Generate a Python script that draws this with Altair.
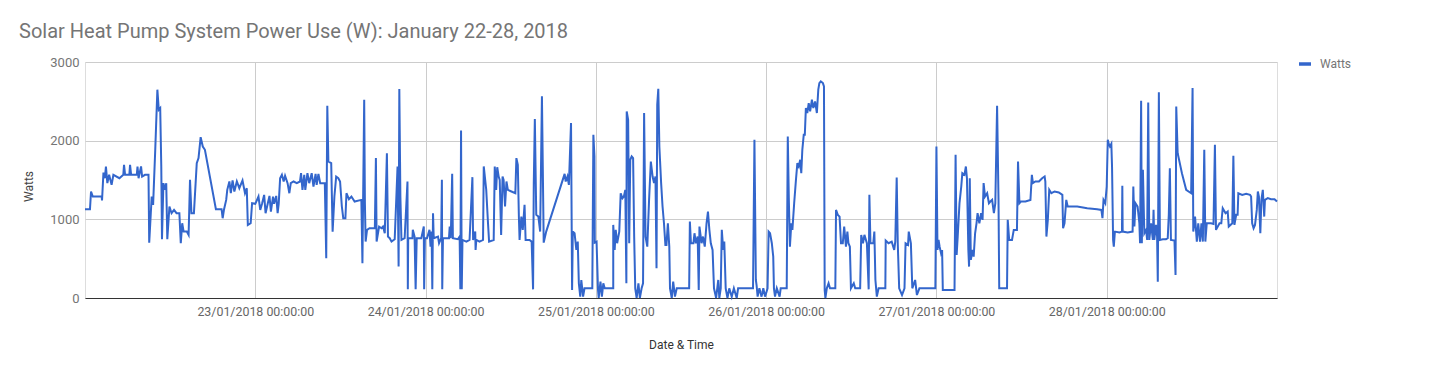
import altair as alt
import pandas as pd

TITLE = "Solar Heat Pump System Power Use (W): January 22-28, 2018"
SERIES = "Watts"
X_TITLE = "Date & Time"
Y_TITLE = "Watts"

# hours since 22/01/2018 00:00:00
HOURS = [
    0.0, 0.7, 0.85, 1.1, 2.35, 2.4, 2.6, 2.8, 2.95, 3.15, 3.4, 3.75, 4.0, 4.85, 5.4, 5.5, 5.65, 6.25, 6.35, 6.5,
    7.3, 7.4, 7.55, 7.9, 8.05, 8.45, 8.95, 9.05, 9.4, 9.6, 9.9, 10.2, 10.4, 10.6, 10.75, 10.85, 11.05, 11.3, 11.45, 11.6,
    11.9, 12.2, 12.55, 12.9, 13.3, 13.5, 13.7, 13.9, 14.35, 14.6, 14.8, 15.0, 15.35, 15.75, 16.0, 16.3, 16.6, 16.9, 18.45, 19.25,
    19.4, 19.6, 19.9, 20.05, 20.35, 20.55, 20.8, 21.05, 21.4, 21.75, 22.2, 22.55, 22.8, 22.95, 23.35, 23.55,
    24.0, 24.45, 24.7, 24.95, 25.25, 25.45, 25.75, 26.0, 26.2, 26.5, 26.65, 26.95, 27.15, 27.3, 27.5, 27.75, 28.0, 28.2, 28.55, 28.8,
    29.0, 29.4, 29.85, 30.3, 30.45, 30.65, 30.9, 31.05, 31.35, 31.6, 31.95, 32.2, 32.5, 32.65, 32.9, 33.15, 33.8, 34.0, 34.15, 34.3,
    34.7, 34.9, 35.15, 35.4, 35.7, 35.95, 36.2, 36.4, 36.7, 36.85, 37.2, 37.55, 38.0, 38.95, 39.1, 39.35, 39.45, 39.55, 39.75, 40.1,
    40.85, 41.0, 41.1, 41.45, 41.8, 42.0, 42.25, 42.55, 42.7, 42.95, 43.2, 43.65, 44.05, 44.2, 44.3, 44.45, 44.6, 45.05, 45.45, 45.5,
    45.55, 46.15, 46.2, 46.45, 46.6, 46.75, 47.4, 47.75, 47.8, 47.9,
    48.2, 48.55, 48.7, 48.85, 48.95, 49.05, 49.15, 49.75, 49.9, 50.2, 50.3, 50.35, 50.45, 51.3, 51.4, 51.55, 51.75, 51.85, 52.55, 52.8,
    52.9, 53.0, 53.1, 53.2, 53.75, 54.2, 54.6, 54.7, 55.0, 55.05, 55.15, 55.6, 56.1, 56.2, 56.55, 56.8, 56.95, 57.6, 57.75, 57.95,
    58.1, 58.3, 58.45, 58.65, 58.85, 59.0, 59.2, 59.4, 59.6, 60.1, 60.65, 60.8, 61.0, 61.15, 61.25, 61.5, 61.7, 61.95, 62.1, 62.65,
    62.95, 63.15, 63.25, 63.4, 63.6, 63.9, 64.15, 64.4, 64.65, 65.0, 67.6, 67.75, 68.0, 68.2, 68.5, 68.65, 68.75, 69.0, 69.25, 69.45,
    69.6, 69.8, 69.95, 70.2, 70.4, 71.35, 71.5, 71.65, 71.8,
    71.85, 72.1, 72.3, 72.4, 72.65, 72.85, 73.05, 73.25, 74.45, 74.45, 74.65, 74.8, 75.0, 75.3, 75.5, 75.75, 75.95, 76.15, 76.3, 76.35,
    76.55, 76.7, 76.85, 77.05, 77.25, 77.4, 77.55, 77.75, 78.0, 78.2, 78.45, 78.65, 78.8, 79.0, 79.25, 79.5, 79.75, 80.0, 80.2, 80.4,
    80.55, 80.65, 80.8, 80.95, 81.2, 81.4, 81.6, 81.8, 81.95, 82.15, 82.35, 82.45, 82.7, 82.9, 83.15, 83.4, 85.15, 85.25, 85.4, 85.75,
    85.9, 86.1, 86.35, 86.5, 86.6, 86.9, 87.1, 87.35, 87.6, 87.8, 88.0, 88.2, 88.45, 88.65, 88.95, 89.25, 89.4, 89.6, 89.75, 89.95,
    90.1, 90.3, 90.55, 90.8, 91.15, 91.45, 91.85, 92.05, 94.15, 94.35, 94.55, 94.65, 94.8, 95.05, 95.35, 95.6, 95.85,
    96.2, 96.35, 96.55, 96.8, 97.0, 97.1, 97.25, 97.5, 97.9, 98.05, 98.9, 99.05, 99.2, 99.35, 99.55, 99.7, 99.95, 100.2, 100.4, 100.6,
    100.8, 100.95, 101.1, 101.3, 101.45, 101.6, 101.8, 102.0, 102.2, 102.45, 102.65, 102.9, 103.15, 103.35, 103.5, 103.7, 104.0, 104.15, 104.25, 104.35,
    104.55, 104.8, 105.0, 105.75, 105.85, 106.1, 106.35, 106.55, 106.8, 107.0, 107.25, 107.45, 107.6, 107.8, 107.95, 108.35, 108.55, 109.25, 109.4, 109.65,
    109.85, 110.2, 110.45, 110.55, 110.7, 111.1, 111.25, 111.4, 111.6, 111.85, 112.8, 112.85, 113.25, 113.7, 114.05, 114.2, 114.4, 114.55, 114.75, 115.15,
    115.5, 115.65, 116.0, 116.1, 116.4, 116.6, 117.0, 117.25, 117.6, 119.85, 120.0, 120.15,
    120.3, 120.45, 120.65, 120.8, 120.9, 122.55, 122.7, 122.85, 123.0, 123.25, 123.5, 123.65, 123.95, 124.15, 124.3, 124.5, 124.6, 124.7, 124.85, 125.1,
    125.25, 125.45, 125.65, 125.8, 126.05, 126.3, 126.5, 126.65, 126.85, 127.15, 127.4, 127.6, 127.85, 128.1, 128.3, 128.55, 128.75, 128.85, 129.95, 130.05,
    130.25, 130.65, 130.9, 131.35, 131.5, 131.7, 131.9, 132.55, 133.25, 133.45, 133.6, 133.95, 134.45, 134.9, 135.25, 135.35, 135.5, 135.7, 135.9, 136.2,
    136.65, 137.25, 137.75, 137.85, 138.05, 138.3, 138.5, 139.85, 141.25, 142.65, 143.25, 143.4, 143.55, 143.8, 144.0,
    144.15, 144.25, 144.45, 144.65, 144.75, 144.9, 145.0, 145.15, 145.8, 146.15, 146.2, 146.25, 146.95, 147.65, 147.75, 147.9, 148.05, 148.35, 148.6, 148.7,
    148.85, 148.95, 149.1, 149.3, 149.55, 149.7, 149.85, 150.0, 150.25, 150.5, 150.6, 150.7, 150.95, 151.1, 151.2, 151.35, 151.5, 151.9, 152.35, 152.6,
    152.75, 152.9, 153.05, 153.55, 153.7, 153.8, 154.0, 154.6, 155.2, 155.9, 156.1, 156.2, 156.45, 156.7, 156.9, 157.15, 157.35, 157.55, 157.75, 157.9,
    158.1, 158.7, 159.05, 159.25, 159.4, 159.9, 160.15, 160.35, 160.75, 161.05, 161.2, 161.7, 161.85, 162.0, 162.25, 162.45, 162.55, 163.1, 163.65, 164.2,
    164.35, 164.5, 164.7, 164.9, 165.15, 165.3, 165.45, 165.65, 165.8, 166.0, 166.2, 166.3, 166.7, 167.15, 167.65, 168.0,
]

WATTS = [
    1129, 1129, 1354, 1290, 1290, 1239, 1595, 1523, 1672, 1460, 1566, 1438, 1566, 1523, 1566, 1693, 1566, 1566, 1693, 1566,
    1566, 1672, 1523, 1672, 1544, 1566, 1566, 704, 1290, 1184, 1884, 2648, 2393, 2414, 1672, 747, 1460, 1375, 1460, 747,
    1163, 1078, 1120, 1078, 1078, 696, 950, 844, 844, 802, 1502, 1078, 1078, 1714, 1778, 2045, 1926, 1884, 1129, 1129,
    1014, 1129, 1247, 1375, 1481, 1332, 1494, 1354, 1481, 1396, 1494, 1332, 1396, 929, 950, 1205,
    1197, 1290, 1120, 1197, 1311, 1078, 1197, 1298, 1099, 1290, 1197, 1298, 1078, 1197, 1523, 1566, 1481, 1553, 1460, 1332,
    1460, 1481, 1460, 1481, 1587, 1375, 1566, 1375, 1587, 1460, 1587, 1417, 1578, 1438, 1578, 1460, 1460, 505, 2444, 1735,
    1714, 844, 1290, 1544, 1523, 1481, 1163, 1014, 1014, 1332, 1256, 1290, 1226, 1247, 441, 2520, 1205, 717, 866, 887,
    887, 1778, 717, 908, 887, 908, 823, 1841, 781, 760, 717, 747, 1672, 399, 2656, 1290, 738, 760, 1481, 110,
    760, 760, 866, 781, 110, 760, 760, 908, 110, 760,
    760, 866, 653, 844, 110, 1078, 760, 781, 696, 760, 1502, 110, 760, 760, 908, 760, 1578, 760, 747, 781,
    110, 2130, 110, 738, 717, 738, 1536, 738, 844, 611, 738, 717, 738, 1672, 1375, 950, 717, 738, 1672, 1375,
    1663, 1544, 1502, 802, 1544, 1502, 1163, 1481, 1375, 1354, 1332, 1778, 1693, 1035, 738, 1035, 866, 1184, 738, 738,
    717, 110, 1460, 2274, 1057, 1035, 844, 2563, 704, 844, 1578, 1481, 1544, 1438, 2223, 102, 844, 823, 611, 717,
    187, 17, 229, 17, 123, 123, 123, 2075, 1799,
    704, 717, 110, 0, 208, 17, 187, 123, 123, 929, 611, 866, 696, 844, 1332, 1269, 1290, 1375, 187, 2372,
    2266, 696, 1757, 1799, 1778, 781, 123, 0, 187, 0, 123, 187, 2351, 781, 653, 1247, 1735, 1544, 1460, 1544,
    378, 2457, 2660, 1926, 1460, 1163, 950, 675, 675, 950, 653, 123, 0, 208, 17, 123, 123, 972, 696, 696,
    823, 696, 781, 102, 908, 696, 781, 653, 950, 1099, 866, 696, 611, 123, 0, 229, 0, 123, 866, 611,
    717, 123, 0, 123, 17, 123, 0, 123, 123, 2011, 229, 165, 17, 123, 17, 123, 17,
    123, 844, 823, 696, 526, 123, 17, 123, 17, 123, 123, 2054, 1247, 653, 950, 866, 1205, 1502, 1714, 1672,
    1757, 1587, 1884, 2075, 2075, 2414, 2351, 2478, 2372, 2520, 2414, 2499, 2351, 2648, 2732, 2754, 2732, 2690, 102, 0,
    123, 187, 123, 123, 1120, 1057, 1035, 696, 696, 908, 653, 844, 696, 653, 123, 187, 123, 123, 802, 696,
    802, 696, 110, 1311, 696, 696, 844, 229, 17, 123, 123, 730, 696, 717, 611, 717, 1532, 696, 123, 38,
    123, 696, 675, 844, 696, 123, 229, 38, 123, 123, 1926, 611,
    738, 653, 569, 611, 102, 102, 1820, 547, 781, 1205, 1417, 1587, 1566, 1672, 1523, 611, 399, 1523, 484, 611,
    526, 823, 950, 1078, 950, 1078, 993, 1460, 1290, 1332, 1205, 1226, 1247, 1078, 1205, 2444, 1247, 123, 123, 993,
    738, 738, 866, 866, 1735, 1205, 1226, 1226, 1247, 1566, 1460, 1481, 1481, 1523, 1544, 1481, 781, 993, 1375, 1332,
    1354, 1341, 1311, 887, 950, 1247, 1163, 1163, 1141, 1129, 1120, 1014, 1247, 1205, 1417,
    2011, 1969, 1926, 1960, 1672, 738, 653, 844, 832, 844, 1426, 844, 832, 844, 1417, 908, 1205, 1163, 950, 696,
    2507, 696, 1629, 823, 866, 738, 2486, 738, 950, 738, 1120, 738, 929, 781, 208, 2614, 738, 747, 747, 760,
    1057, 1650, 738, 730, 293, 2435, 1841, 1587, 1375, 1332, 2669, 844, 1035, 717, 950, 717, 950, 717, 1884, 717,
    950, 950, 942, 1947, 866, 950, 950, 1141, 1078, 1099, 908, 950, 1807, 929, 1057, 1057, 1332, 1311, 1324, 1311,
    1290, 950, 887, 929, 1120, 1354, 1290, 823, 1247, 1375, 1035, 1247, 1269, 1256, 1256, 1226,
]

TICK_HOURS = [24, 48, 72, 96, 120, 144]
TICK_LABELS = [
    "23/01/2018 00:00:00", "24/01/2018 00:00:00", "25/01/2018 00:00:00",
    "26/01/2018 00:00:00", "27/01/2018 00:00:00", "28/01/2018 00:00:00",
]
Y_TICKS = [0, 1000, 2000, 3000]

assert len(HOURS) == len(WATTS), (len(HOURS), len(WATTS))

df = pd.DataFrame({
    "hour": HOURS,
    "watts": WATTS,
    "idx": list(range(len(HOURS))),
    "series": [SERIES] * len(HOURS),
})

label_map = "{" + ",".join(f"'{h}':'{l}'" for h, l in zip(TICK_HOURS, TICK_LABELS)) + "}"
label_expr = label_map + "[''+datum.value]"

chart = alt.Chart(df).mark_line(strokeWidth=2, interpolate="linear").encode(
    x=alt.X(
        "hour:Q",
        scale=alt.Scale(domain=[0, 168], nice=False, zero=False),
        axis=alt.Axis(
            values=TICK_HOURS, labelExpr=label_expr, title=X_TITLE,
            grid=True, gridColor="#cccccc", ticks=False,
            domain=True, domainColor="#333333", domainWidth=1,
            labelFont="Roboto", labelFontSize=12.4, labelColor="#666666", labelPadding=7,
            titleFont="Roboto", titleFontSize=12, titleFontWeight="normal", titleColor="#333333",
            titleBaseline="alphabetic", titleY=50, labelOverlap=False,
        ),
    ),
    y=alt.Y(
        "watts:Q",
        scale=alt.Scale(domain=[0, 3000], nice=False),
        axis=alt.Axis(
            values=Y_TICKS, format="d", title=Y_TITLE, grid=True, gridColor="#cccccc",
            ticks=False, domain=False,
            labelFont="Roboto", labelFontSize=13, labelColor="#757575", labelPadding=6,
            titleFont="Roboto", titleFontSize=12, titleFontWeight="normal", titleColor="#444444",
            titleX=-57, titleY=124, titleBaseline="middle",
        ),
    ),
    color=alt.Color(
        "series:N",
        scale=alt.Scale(range=["#3366cc"]),
        legend=alt.Legend(
            title=None, orient="none", legendX=1212, legendY=-6,
            symbolType="stroke", symbolSize=144, symbolStrokeWidth=3.5,
            labelFont="Roboto", labelFontSize=12, labelColor="#757575", labelOffset=7,
            padding=0,
        ),
    ),
    order=alt.Order("idx:Q"),
).properties(
    width=1192,
    height=236,
    autosize="none",
    padding={"left": 77, "top": 54, "right": 151, "bottom": 65},
    title=alt.TitleParams(
        text=TITLE, anchor="start", frame="group", dx=-66, dy=21, offset=19,
        font="Roboto", fontSize=20, fontWeight="normal", color="#757575",
        baseline="alphabetic",
    ),
).configure_view(strokeWidth=0).configure(font="Roboto")

chart.save("out.html", embed_options={"renderer": "svg", "actions": False})
